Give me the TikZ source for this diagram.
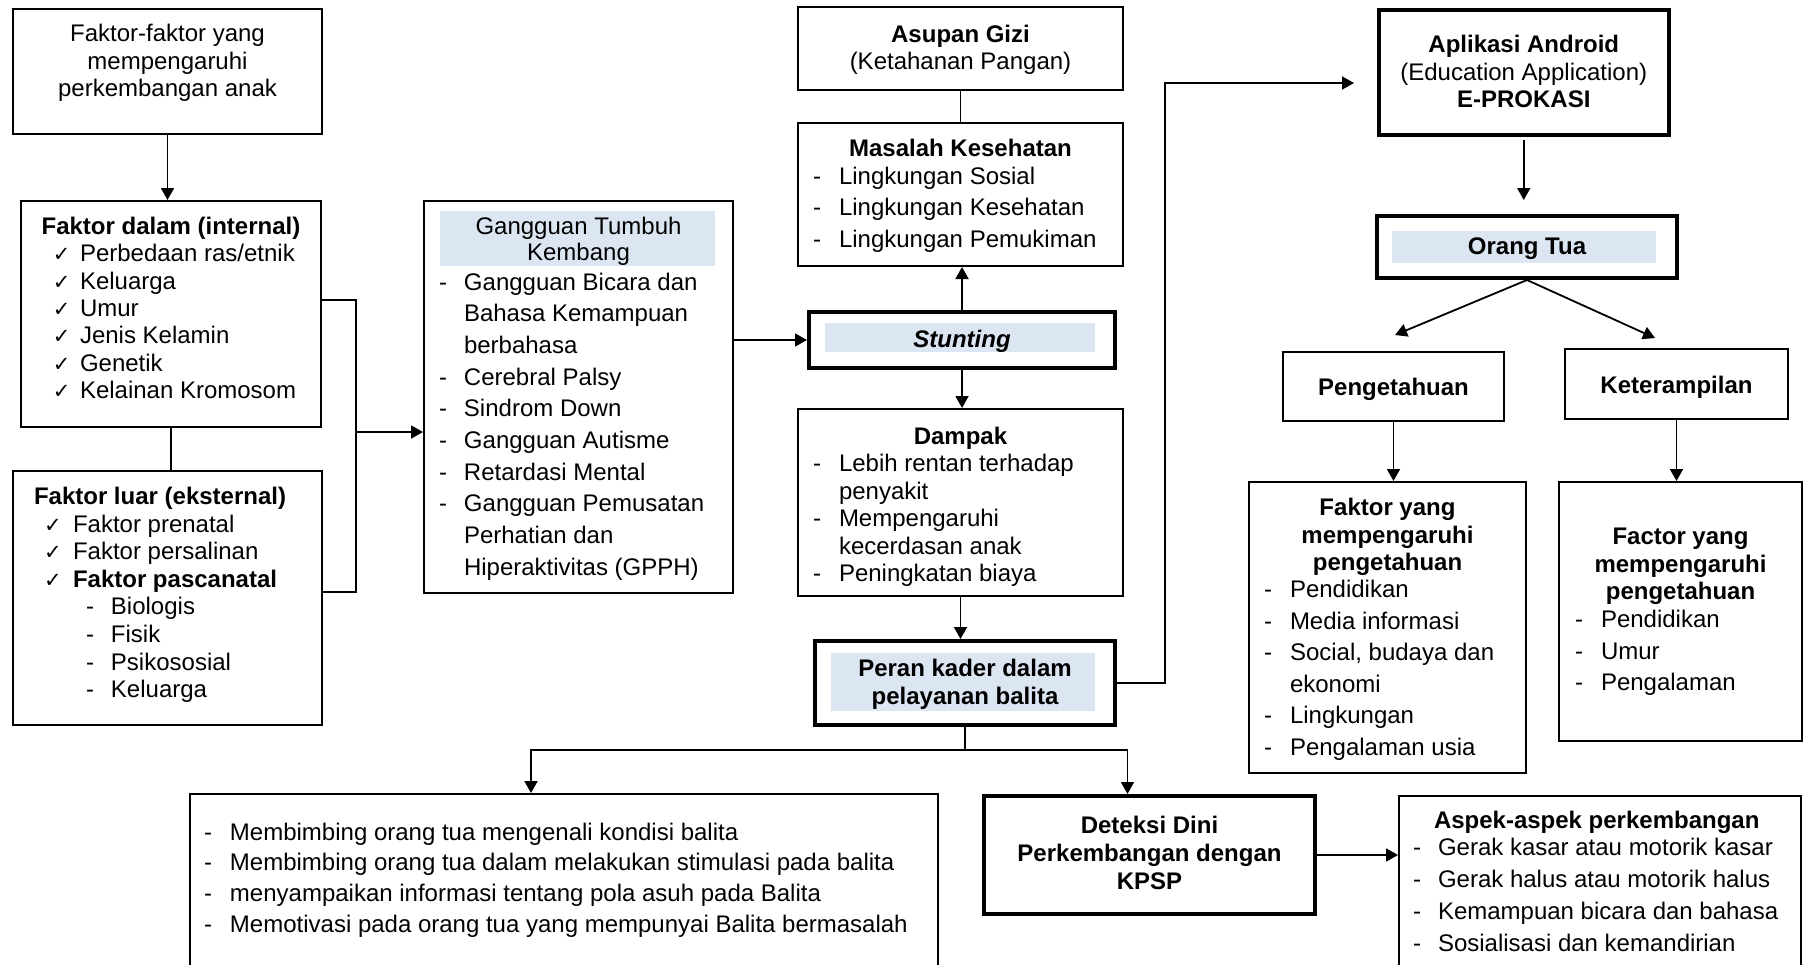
\documentclass[tikz,border=0pt]{standalone}
\usepackage{fontspec}
\setmainfont{Liberation Sans}
\newfontfamily\checkfont{DejaVu Sans}
\usetikzlibrary{arrows.meta}
\definecolor{headblue}{RGB}{220,230,242}
\newcommand{\panel}[5]{\parbox[t][#2pt][t]{#1pt}{\setlength{\baselineskip}{#3pt}\vspace*{#4pt}#5}}
\newcommand{\st}{\rule{0pt}{18pt}}
\newcommand{\itm}[3]{\noindent\hspace*{#1pt}\makebox[#2pt][l]{-}#3\par}
\newcommand{\cnt}[2]{\noindent\hspace*{#1pt}#2\par}
\newcommand{\chk}[3]{\noindent\hspace*{#1pt}\makebox[#2pt][l]{\checkfont\fontsize{21}{21}\selectfont ✓}#3\par}

\begin{document}
\begin{tikzpicture}[x=1pt,y=-1pt,line width=1.8pt,>={Triangle[length=12pt,width=13pt]},
  box/.style={draw,line width=2pt,anchor=north west,inner sep=0pt,font=\fontsize{24}{27.5}\selectfont},
  midbox/.style={box,line width=3.5pt},
  thickbox/.style={box,line width=4pt}]
  \useasboundingbox (0,0) rectangle (1807,964);
  \clip (0,0) rectangle (1807,964);
  \fill[headblue] (440,211) rectangle (715,266);
  \fill[headblue] (825,323) rectangle (1095,352);
  \fill[headblue] (831,653) rectangle (1095,711);
  \fill[headblue] (1392,231) rectangle (1656,263);

  \node[box] (b1) at (12,8) {\panel{309}{125}{27.5}{14.5}{%
    \centering\st Faktor-faktor yang\\mempengaruhi\\perkembangan anak\par}};
  \node[box] (b2) at (20,200) {\panel{300}{226}{27.3}{15.5}{%
    {\centering\bfseries\st Faktor dalam (internal)\par}
    \chk{32}{27}{Perbedaan ras/etnik}
    \chk{32}{27}{Keluarga}
    \chk{32}{27}{Umur}
    \chk{32}{27}{Jenis Kelamin}
    \chk{32}{27}{Genetik}
    \chk{32}{27}{Kelainan Kromosom}}};
  \node[box] (b3) at (12,470) {\panel{309}{254}{27.6}{15.5}{%
    \noindent\hspace*{21pt}\textbf{\st Faktor luar (eksternal)}\par
    \chk{31}{29}{Faktor prenatal}
    \chk{31}{29}{Faktor persalinan}
    \chk{31}{29}{\textbf{Faktor pascanatal}}
    \itm{73}{25}{Biologis}
    \itm{73}{25}{Fisik}
    \itm{73}{25}{Psikososial}
    \itm{73}{25}{Keluarga}}};
  \node[box] (b4) at (423,200) {\panel{309}{392}{31.7}{15.5}{%
    {\centering\setlength{\baselineskip}{25.5pt}\st Gangguan Tumbuh\\Kembang\par}\vspace{-1.7pt}
    \itm{15}{25}{Gangguan Bicara dan}
    \cnt{40}{Bahasa Kemampuan}
    \cnt{40}{berbahasa}
    \itm{15}{25}{Cerebral Palsy}
    \itm{15}{25}{Sindrom Down}
    \itm{15}{25}{Gangguan Autisme}
    \itm{15}{25}{Retardasi Mental}
    \itm{15}{25}{Gangguan Pemusatan}
    \cnt{40}{Perhatian dan}
    \cnt{40}{Hiperaktivitas (GPPH)}}};

  \node[box] (c1) at (797,6) {\panel{325}{83}{27}{17.5}{%
    \centering\textbf{\st Asupan Gizi}\\(Ketahanan Pangan)\par}};
  \node[box] (c2) at (797,122) {\panel{325}{143}{31.5}{15}{%
    {\centering\bfseries\st Masalah Kesehatan\par}\vspace{-3.5pt}
    \itm{15}{26}{Lingkungan Sosial}
    \itm{15}{26}{Lingkungan Kesehatan}
    \itm{15}{26}{Lingkungan Pemukiman}}};
  \node[thickbox] (st) at (807,310) {\panel{306}{56}{27}{17}{%
    \centering\textbf{\textit{\st Stunting}}\par}};
  \node[box] (c4) at (797,408) {\panel{325}{187}{27.4}{17.5}{%
    {\centering\bfseries\st Dampak\par}
    \itm{15}{26}{Lebih rentan terhadap}
    \cnt{41}{penyakit}
    \itm{15}{26}{Mempengaruhi}
    \cnt{41}{kecerdasan anak}
    \itm{15}{26}{Peningkatan biaya}}};
  \node[thickbox] (c5) at (813,639) {\panel{300}{84}{28.5}{17}{%
    \centering\bfseries\st Peran kader dalam\\pelayanan balita\par}};

  \node[midbox] (r1) at (1377,8) {\panel{290}{125}{27.5}{25}{%
    \centering\textbf{\st Aplikasi Android}\\(Education Application)\\\textbf{E-PROKASI}\par}};
  \node[thickbox] (r2) at (1375,214) {\panel{300}{62}{27}{20}{%
    \centering\bfseries\st Orang Tua\par}};
  \node[box] (r3) at (1282,351) {\panel{221}{69}{27}{25}{%
    \centering\bfseries\st Pengetahuan\par}};
  \node[box] (r4) at (1564,348) {\panel{223}{70}{27}{26}{%
    \centering\bfseries\st Keterampilan\par}};
  \node[box] (r5) at (1248,481) {\panel{277}{291}{31.6}{15.5}{%
    {\centering\bfseries\setlength{\baselineskip}{27.5pt}\st Faktor yang\\mempengaruhi\\pengetahuan\par}\vspace{-4.6pt}
    \itm{15}{26}{Pendidikan}
    \itm{15}{26}{Media informasi}
    \itm{15}{26}{Social, budaya dan}
    \cnt{41}{ekonomi}
    \itm{15}{26}{Lingkungan}
    \itm{15}{26}{Pengalaman usia}}};
  \node[box] (r6) at (1558,481) {\panel{243}{259}{31.5}{44.5}{%
    {\centering\bfseries\setlength{\baselineskip}{27.5pt}\st Factor yang\\mempengaruhi\\pengetahuan\par}\vspace{-3.5pt}
    \itm{16}{26}{Pendidikan}
    \itm{16}{26}{Umur}
    \itm{16}{26}{Pengalaman}}};

  \node[box] (d1) at (189,793) {\panel{748}{200}{30.7}{28}{%
    \itm{14}{26}{\st Membimbing orang tua mengenali kondisi balita}
    \itm{14}{26}{Membimbing orang tua dalam melakukan stimulasi pada balita}
    \itm{14}{26}{menyampaikan informasi tentang pola asuh pada Balita}
    \itm{14}{26}{Memotivasi pada orang tua yang mempunyai Balita bermasalah}}};
  \node[thickbox] (d2) at (982,794) {\panel{331}{118}{28}{19.5}{%
    \centering\bfseries\st Deteksi Dini\\Perkembangan dengan\\KPSP\par}};
  \node[box] (d3) at (1398,795) {\panel{402}{200}{32}{14.5}{%
    \noindent\hspace*{35pt}\textbf{\st Aspek-aspek perkembangan}\par\vspace{-5pt}
    \itm{14}{25}{Gerak kasar atau motorik kasar}
    \itm{14}{25}{Gerak halus atau motorik halus}
    \itm{14}{25}{Kemampuan bicara dan bahasa}
    \itm{14}{25}{Sosialisasi dan kemandirian}}};

  \coordinate (ja) at (356,300);
  \coordinate (jb) at (356,592);
  \coordinate (jc) at (356,432);
  \coordinate (up) at (1165,83);
  \coordinate (apkin) at (1354,83);
  \path (c5.south) ++(0,23) coordinate (fork);
  \coordinate (pin) at (1395,335);
  \coordinate (kin) at (1655,338);

  \draw[->] (b1.south) -- (b1.south |- b2.north);
  \draw (b2.south) -- (b2.south |- b3.north);
  \draw (b2.east |- ja) -- (ja) -- (jb) -- (b3.east |- jb);
  \draw[->] (jc) -- (jc -| b4.west);
  \draw[->] (b4.east |- st.west) -- (st.west);
  \draw (c1.south) -- (c2.north);
  \draw[->] (st.north) -- (st.north |- c2.south);
  \draw[->] (st.south) -- (st.south |- c4.north);
  \draw[->] (c4.south) -- (c4.south |- c5.north);
  \draw[->] (c5.east) -| (up) -- (apkin);
  \draw (c5.south) -- (fork);
  \draw[->] (fork) -| ([xshift=-33pt]d1.north);
  \draw[->] (fork) -| ([xshift=-22pt]d2.north);
  \draw[->] (d2.east) -- (d2.east -| d3.west);
  \draw[->,shorten <=3pt,shorten >=14pt] (r1.south) -- (r1.south |- r2.north);
  \draw[->] (r2.south) -- (pin);
  \draw[->] (r2.south) -- (kin);
  \draw[->] (r3.south) -- (r3.south |- r5.north);
  \draw[->] (r4.south) -- (r4.south |- r6.north);
\end{tikzpicture}
\end{document}
